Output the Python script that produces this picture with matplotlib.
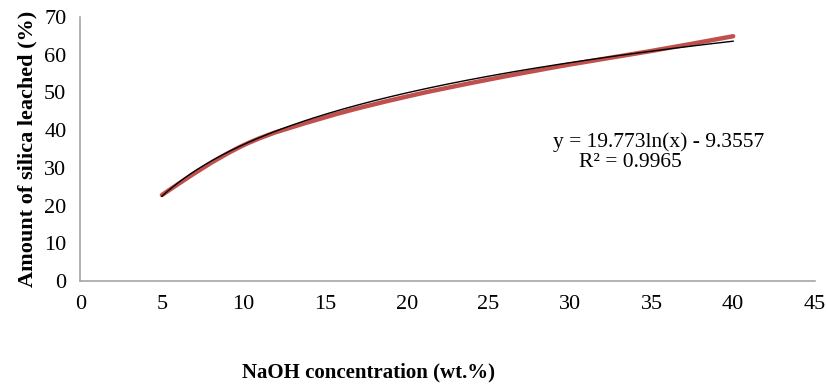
import matplotlib
matplotlib.use("Agg")
import matplotlib.pyplot as plt
import numpy as np
from matplotlib.path import Path
from matplotlib.patches import PathPatch

# data
naoh = [5, 10, 15, 20, 25, 30, 35, 40]
silica = [22.8, 36.0, 43.4, 48.9, 53.4, 57.4, 61.0, 64.9]

# log trendline reported on the chart
fit_a = 19.773
fit_b = -9.3557
eq_text = "y = 19.773ln(x) - 9.3557"
r2_text = "R² = 0.9965"

x_ticks = list(range(0, 50, 5))
y_ticks = list(range(0, 80, 10))

RED = "#C0504D"
GREY = "#A6A6A6"
plt.rcParams["font.family"] = ["Liberation Serif", "DejaVu Serif"]


def smooth_path(xs, ys):
    # Excel-style smoothed line: Catmull-Rom segments as cubic Beziers
    pts = list(zip(xs, ys))
    verts = [pts[0]]
    codes = [Path.MOVETO]
    n = len(pts)
    for i in range(n - 1):
        p0 = pts[i - 1] if i > 0 else None
        p1 = pts[i]
        p2 = pts[i + 1]
        p3 = pts[i + 2] if i + 2 < n else None
        c1 = c2 = None
        if p0 is not None:
            c1 = (p1[0] + (p2[0] - p0[0]) / 6, p1[1] + (p2[1] - p0[1]) / 6)
        if p3 is not None:
            c2 = (p2[0] - (p3[0] - p1[0]) / 6, p2[1] - (p3[1] - p1[1]) / 6)
        # end segments: aim the free handle halfway to the other one
        if c1 is None:
            c1 = ((p1[0] + c2[0]) / 2, (p1[1] + c2[1]) / 2)
        if c2 is None:
            c2 = ((p2[0] + c1[0]) / 2, (p2[1] + c1[1]) / 2)
        verts += [c1, c2, p2]
        codes += [Path.CURVE4] * 3
    return Path(verts, codes)


fig = plt.figure(figsize=(8.28, 3.86), dpi=100)
ax = fig.add_axes([0.097, 0.272, 0.887, 0.684])

ax.add_patch(PathPatch(smooth_path(naoh, silica), facecolor="none",
                       edgecolor=RED, lw=3.2, capstyle="round", zorder=2))

xf = np.linspace(min(naoh), max(naoh), 200)
ax.plot(xf, fit_a * np.log(xf) + fit_b, color="black", lw=1.0, zorder=3)

ax.set_xlim(0, 45)
ax.set_ylim(0, 70)
ax.set_xticks(x_ticks)
ax.set_yticks(y_ticks)
ax.tick_params(length=0, labelsize=16, pad=10)
ax.tick_params(axis="y", pad=10)
for s in ["top", "right"]:
    ax.spines[s].set_visible(False)
for s in ["left", "bottom"]:
    ax.spines[s].set_color(GREY)
    ax.spines[s].set_linewidth(1.2)

ax.set_ylabel("Amount of silica leached (%)", fontsize=16, fontweight="bold",
              labelpad=5)
fig.text(0.445, 0.035, "NaOH concentration (wt.%)", fontsize=15,
         fontweight="bold", ha="center", va="center")

fig.text(0.795, 0.632, eq_text, fontsize=15.5, ha="center", va="center")
fig.text(0.761, 0.578, r2_text, fontsize=15.5, ha="center", va="center")

fig.savefig("out.png", dpi=100)
